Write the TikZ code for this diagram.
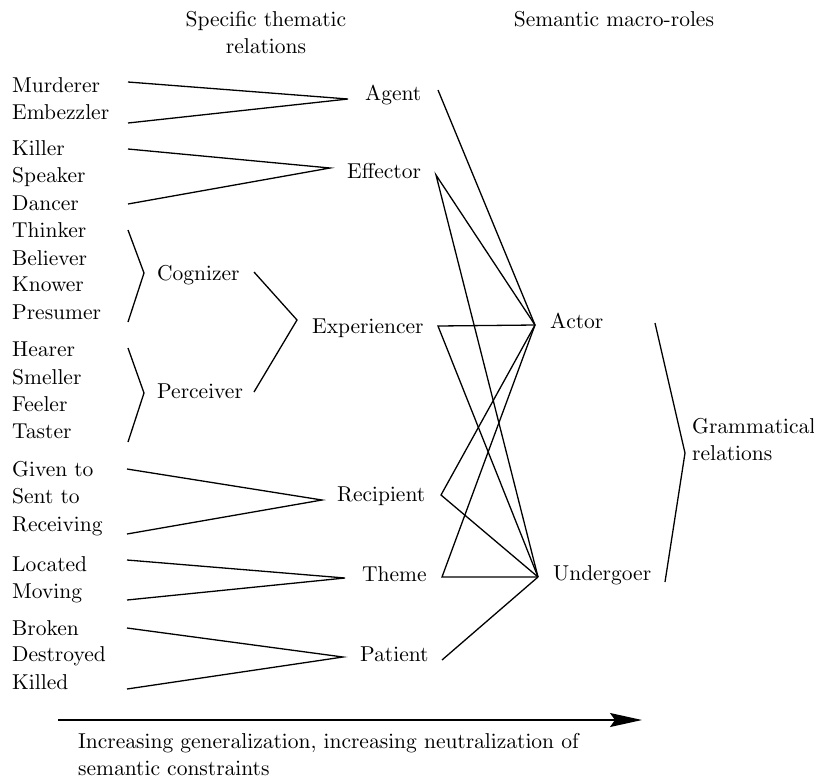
\documentclass[tikz,border=0pt]{standalone}
\usetikzlibrary{arrows.meta}
\font\dfont=cmr10 at 21.5pt
\begin{document}
\begin{tikzpicture}[x=1pt,y=-1pt,
  lbl/.style={inner sep=0pt, anchor=base west, font=\dfont},
  ttl/.style={inner sep=0pt, anchor=base, font=\dfont},
  link/.style={line width=1.3pt, line join=miter},
  genarrow/.style={line width=1.3pt, -{Stealth[length=32pt, width=14pt, inset=5pt]}}]
\useasboundingbox (0,0) rectangle (814,780);
% titles
\node[ttl] (t1a) at (266,26.7) {Specific thematic};
\node[ttl] (t1b) at (266,53.3) {relations};
\node[ttl] (t2) at (614,26.7) {Semantic macro-roles};
% left column
\node[lbl] (murderer) at (12,92.5) {Murderer};
\node[lbl] (embezzler) at (12,119.3) {Embezzler};
\node[lbl] (killer) at (12,155) {Killer};
\node[lbl] (speaker) at (12,182.5) {Speaker};
\node[lbl] (dancer) at (12,210.3) {Dancer};
\node[lbl] (thinker) at (12,237.3) {Thinker};
\node[lbl] (believer) at (12,265) {Believer};
\node[lbl] (knower) at (12,291.7) {Knower};
\node[lbl] (presumer) at (12,319.3) {Presumer};
\node[lbl] (hearer) at (12,356.7) {Hearer};
\node[lbl] (smeller) at (12,384) {Smeller};
\node[lbl] (feeler) at (12,411.7) {Feeler};
\node[lbl] (taster) at (12,438.3) {Taster};
\node[lbl] (given) at (12,476.7) {Given to};
\node[lbl] (sent) at (12,503.3) {Sent to};
\node[lbl] (receiving) at (12,531) {Receiving};
\node[lbl] (located) at (12,571.7) {Located};
\node[lbl] (moving) at (12,598.3) {Moving};
\node[lbl] (broken) at (12,635) {Broken};
\node[lbl] (destroyed) at (12,661.7) {Destroyed};
\node[lbl] (killed) at (12,689.3) {Killed};
% middle
\node[lbl] (cognizer) at (157,280) {Cognizer};
\node[lbl] (perceiver) at (157,398.3) {Perceiver};
\node[lbl] (agent) at (365,100) {Agent};
\node[lbl] (effector) at (347,178) {Effector};
\node[lbl] (experiencer) at (312,333.5) {Experiencer};
\node[lbl] (recipient) at (337,501.7) {Recipient};
\node[lbl] (theme) at (362,581.7) {Theme};
\node[lbl] (patient) at (360,661.7) {Patient};
% macro-roles
\node[lbl] (actor) at (550,328) {Actor};
\node[lbl] (undergoer) at (553,580) {Undergoer};
\node[lbl] (gram) at (692,433) {Grammatical};
\node[lbl] (gramb) at (692,460) {relations};
% bottom text
\node[lbl] (bot1) at (78,748) {Increasing generalization, increasing neutralization of};
\node[lbl] (bot2) at (78,775) {semantic constraints};
% connector points
\coordinate (agA) at (128,82);  \coordinate (agB) at (128,123); \coordinate (agV) at (348,99);
\coordinate (efA) at (128,149); \coordinate (efB) at (128,204); \coordinate (efV) at (330,168);
\coordinate (coA) at (128,230); \coordinate (coV) at (144,273); \coordinate (coB) at (128,322);
\coordinate (peA) at (128,348); \coordinate (peV) at (144,393); \coordinate (peB) at (128,442);
\coordinate (exA) at (254,272); \coordinate (exV) at (297,320); \coordinate (exB) at (254,392);
\coordinate (reA) at (127,469); \coordinate (reB) at (127,534); \coordinate (reV) at (322,500);
\coordinate (thA) at (127,560); \coordinate (thB) at (127,600); \coordinate (thV) at (345,578);
\coordinate (paA) at (127,628); \coordinate (paB) at (127,689); \coordinate (paV) at (343,657);
\coordinate (agR) at (438,90);
\coordinate (efR) at (436,175);
\coordinate (exR) at (438,326);
\coordinate (reR) at (441,495);
\coordinate (thR) at (442,577);
\coordinate (paR) at (442,660);
\coordinate (acV) at (535,325);
\coordinate (unV) at (538,577);
\coordinate (grA) at (655,323); \coordinate (grV) at (685,453); \coordinate (grB) at (665,582);
\coordinate (arA) at (58,720); \coordinate (arB) at (642,720);
% left fans
\draw[link] (agA) -- (agV) -- (agB);
\draw[link] (efA) -- (efV) -- (efB);
\draw[link] (coA) -- (coV) -- (coB);
\draw[link] (peA) -- (peV) -- (peB);
\draw[link] (exA) -- (exV) -- (exB);
\draw[link] (reA) -- (reV) -- (reB);
\draw[link] (thA) -- (thV) -- (thB);
\draw[link] (paA) -- (paV) -- (paB);
% macro-role links
\draw[link] (agR) -- (acV);
\draw[link] (acV) -- (efR) -- (unV);
\draw[link] (acV) -- (exR) -- (unV);
\draw[link] (acV) -- (reR) -- (unV);
\draw[link] (acV) -- (thR) -- (unV);
\draw[link] (paR) -- (unV);
\draw[link] (grA) -- (grV) -- (grB);
% arrow
\draw[genarrow] (arA) -- (arB);
\end{tikzpicture}
\end{document}
